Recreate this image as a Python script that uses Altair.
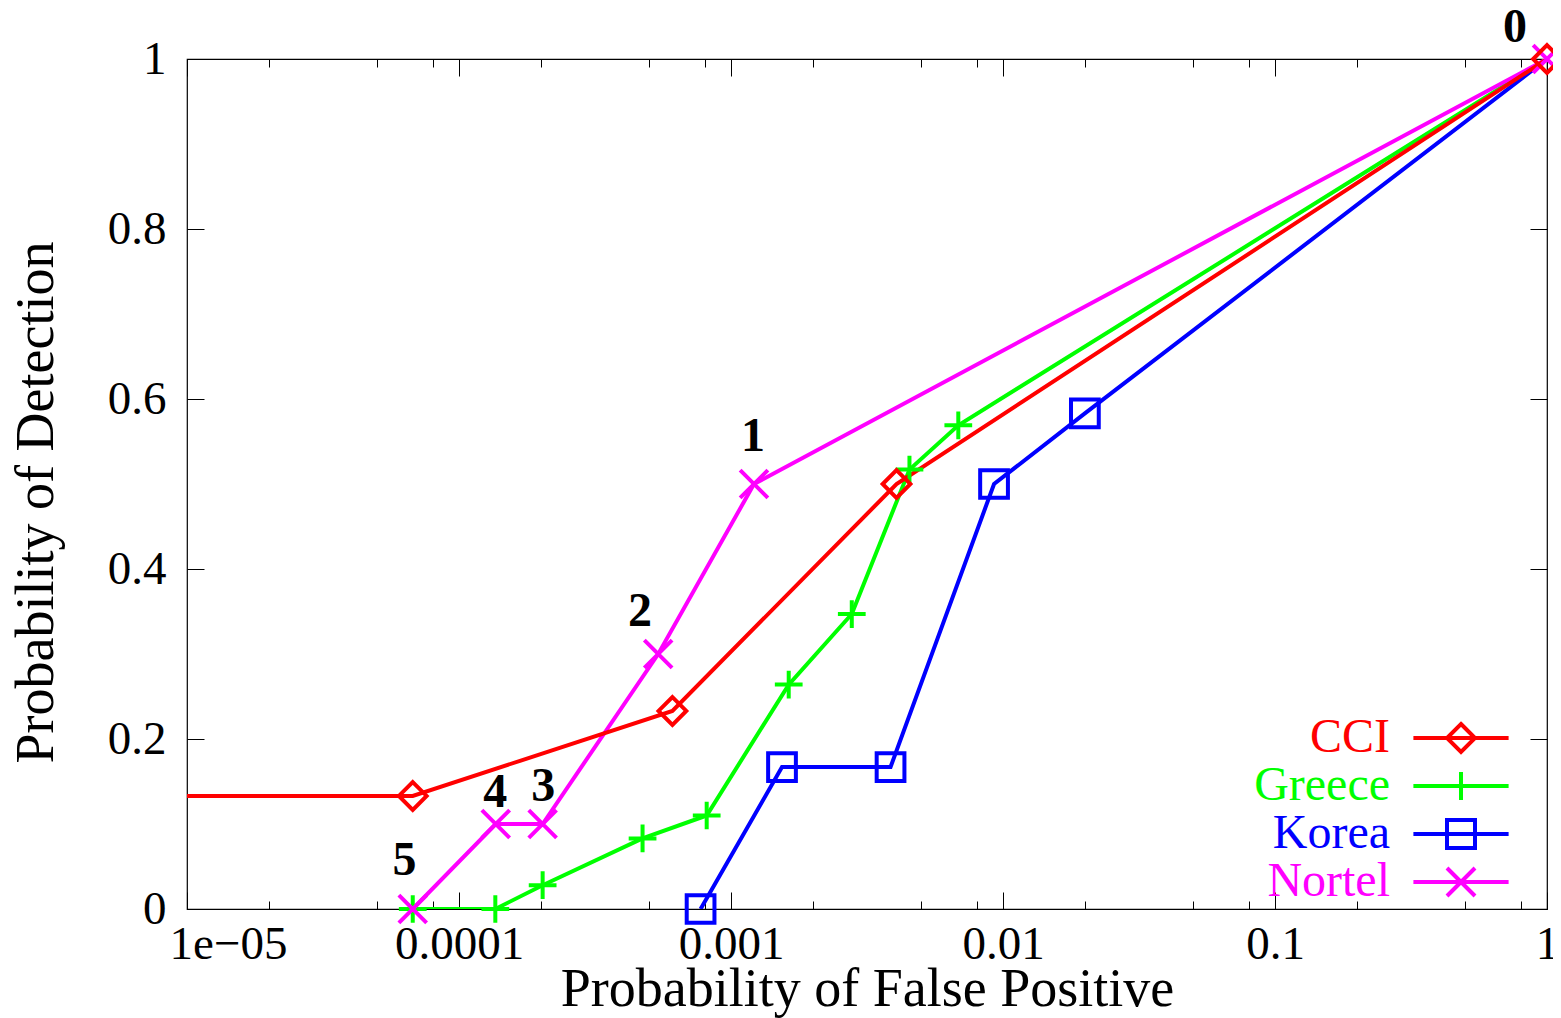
import altair as alt
import pandas as pd

# ---------------- data ----------------
series_names = ["CCI", "Greece", "Korea", "Nortel"]
series_colors = ["#ff0000", "#00ff00", "#0000ff", "#ff00ff"]

cci_x = [1e-6, 6.76e-5, 6.09e-4, 4.06e-3, 1.0]
cci_y = [0.133, 0.133, 0.233, 0.5, 1.0]

greece_x = [6.76e-5, 1.36e-4, 2.03e-4, 4.73e-4, 8.14e-4, 1.63e-3, 2.78e-3, 4.53e-3, 6.85e-3, 1.001]
greece_y = [0.0, 0.0, 0.028, 0.083, 0.11, 0.264, 0.347, 0.517, 0.569, 1.0]

korea_x = [7.73e-4, 1.54e-3, 3.86e-3, 9.27e-3, 0.0200, 1.001]
korea_y = [0.0, 0.167, 0.167, 0.5, 0.583, 1.0]

nortel_x = [6.76e-5, 1.365e-4, 2.03e-4, 5.40e-4, 1.215e-3, 1.0]
nortel_y = [0.0, 0.1, 0.1, 0.3, 0.5, 1.0]

note_text = ["0", "1", "2", "3", "4", "5"]
note_x = [0.762, 1.205e-3, 4.63e-4, 2.04e-4, 1.36e-4, 6.30e-5]
note_y = [1.037, 0.555, 0.35, 0.144, 0.136, 0.057]

x_major = [1e-5, 1e-4, 1e-3, 1e-2, 1e-1, 1.0]
x_major_labels = ["1e\u221205", "0.0001", "0.001", "0.01", "0.1", "1"]
x_minor = [2e-5, 5e-5, 8e-5, 2e-4, 5e-4, 8e-4, 2e-3, 5e-3, 8e-3,
           2e-2, 5e-2, 8e-2, 0.2, 0.5, 0.8]
y_ticks = [0, 0.2, 0.4, 0.6, 0.8, 1.0]

# marker outlines (unit paths) and legend samples (line + marker)
marker_paths = ["M0,-1L1,0L0,1L-1,0Z", "M-1,0L1,0M0,-1L0,1",
                "M-1,-1L1,-1L1,1L-1,1Z", "M-1,-1L1,1M-1,1L1,-1"]
legend_paths = ["M-3.4,0L3.4,0" + p for p in marker_paths]

# ---------------- tables (CCI last so it is drawn on top) ----------------
rows = []
for name, xs, ys in [("Greece", greece_x, greece_y), ("Korea", korea_x, korea_y),
                     ("Nortel", nortel_x, nortel_y), ("CCI", cci_x, cci_y)]:
    for xv, yv in zip(xs, ys):
        rows.append({"series": name, "fp": xv, "pd": yv})
df = pd.DataFrame(rows)
notes = pd.DataFrame({"t": note_text, "fp": note_x, "pd": note_y})

FONT = "Liberation Serif"
W, H = 1360, 850
LW = 4

xscale = alt.Scale(type="log", domain=[1e-5, 1], nice=False)
yscale = alt.Scale(domain=[0, 1], nice=False, zero=False)

vals_js = "[" + ",".join(repr(v) for v in x_major) + "]"
labs_js = "[" + ",".join("'" + s + "'" for s in x_major_labels) + "]"
label_expr = f"{labs_js}[indexof({vals_js}, datum.value)]"
major_test = "abs(log(datum.value)/LN10 - round(log(datum.value)/LN10)) < 0.001"
color_expr = "".join(f"datum.value === '{n}' ? '{c}' : " for n, c in zip(series_names, series_colors)) + "'black'"

tick_common = dict(labels=False, domain=False, grid=False, title=None,
                   tickColor="black", tickWidth=1)

# ---- layer 1: lines, with labelled axes ----
lines = alt.Chart(df).mark_line(strokeWidth=LW, clip=True).encode(
    x=alt.X("fp:Q", scale=xscale, axis=alt.Axis(
        values=x_major, labelExpr=label_expr, ticks=False, domain=False, grid=False,
        labelFont=FONT, labelFontSize=47, labelColor="black", labelPadding=12,
        labelFlush=False, labelOverlap=False,
        labelOffset={"condition": {"test": "datum.value < 2e-5", "value": 41}, "value": 0},
        title="Probability of False Positive", titleFont=FONT, titleFontSize=54,
        titleFontWeight="normal", titleColor="black", titleY=96, titleBaseline="alphabetic")),
    y=alt.Y("pd:Q", scale=yscale, axis=alt.Axis(
        values=y_ticks, format="~g", ticks=False, domain=False, grid=False,
        labelFont=FONT, labelFontSize=47, labelColor="black", labelPadding=21,
        title="Probability of Detection", titleFont=FONT, titleFontSize=54,
        titleFontWeight="normal", titleColor="black", titleAngle=270,
        titleX=-135, titleY=443, titleBaseline="alphabetic", titleAlign="center")),
    color=alt.Color("series:N", scale=alt.Scale(domain=series_names, range=series_colors), legend=None),
    detail="series:N",
)

# ---- layer 2: markers (only in-range points), inward ticks on bottom and left ----
points = alt.Chart(df).transform_filter("datum.fp >= 1e-5 && datum.fp <= 1").mark_point(
    filled=False, strokeWidth=LW, size=770, opacity=1).encode(
    x=alt.X("fp:Q", scale=xscale, axis=alt.Axis(
        orient="top", offset=-H, values=x_major + x_minor,
        tickSize={"condition": {"test": major_test, "value": 17}, "value": 8}, **tick_common)),
    y=alt.Y("pd:Q", scale=yscale, axis=alt.Axis(
        orient="right", offset=-W, values=y_ticks, tickSize=17, **tick_common)),
    color=alt.Color("series:N", scale=alt.Scale(domain=series_names, range=series_colors), legend=None),
    shape=alt.Shape("series:N", scale=alt.Scale(domain=series_names, range=marker_paths), legend=None),
)

# ---- layer 3: point numbers, inward ticks on top and right ----
texts = alt.Chart(notes).mark_text(
    font=FONT, fontSize=48, fontWeight="bold", color="black",
    align="center", baseline="middle").encode(
    x=alt.X("fp:Q", scale=xscale, axis=alt.Axis(
        orient="bottom", offset=-H, values=x_major + x_minor,
        tickSize={"condition": {"test": major_test, "value": 17}, "value": 8}, **tick_common)),
    y=alt.Y("pd:Q", scale=yscale, axis=alt.Axis(
        orient="left", offset=-W, values=y_ticks, tickSize=17, **tick_common)),
    text="t:N",
)

# ---- layer 4: legend only ----
def make_legend():
    return alt.Legend(
        title=None, orient="none", legendX=1250, legendY=655,
        labelAlign="right", labelOffset={"expr": "-95"}, labelFont=FONT,
        labelFontSize=48, labelLimit=0, labelColor={"expr": color_expr},
        symbolSize=784, symbolStrokeWidth=LW, symbolOpacity=1, rowPadding=0)

legend = alt.Chart(df).transform_filter("false").mark_point(
    filled=False, strokeWidth=LW, opacity=1).encode(
    x=alt.X("fp:Q", scale=xscale, axis=None),
    y=alt.Y("pd:Q", scale=yscale, axis=None),
    color=alt.Color("series:N", scale=alt.Scale(domain=series_names, range=series_colors),
                    legend=make_legend()),
    shape=alt.Shape("series:N", scale=alt.Scale(domain=series_names, range=legend_paths),
                    legend=make_legend()),
)

chart = alt.layer(lines, points, texts, legend).resolve_scale(
    color="independent", shape="independent"
).resolve_axis(
    x="independent", y="independent"
).properties(
    width=W, height=H,
    padding={"left": 179, "top": 51, "right": 6, "bottom": 109},
    autosize=alt.AutoSizeParams(type="none"),
    background="white",
).configure_view(stroke="black", strokeWidth=1.2)

chart.save("out.html", embed_options={"renderer": "svg", "actions": False})
